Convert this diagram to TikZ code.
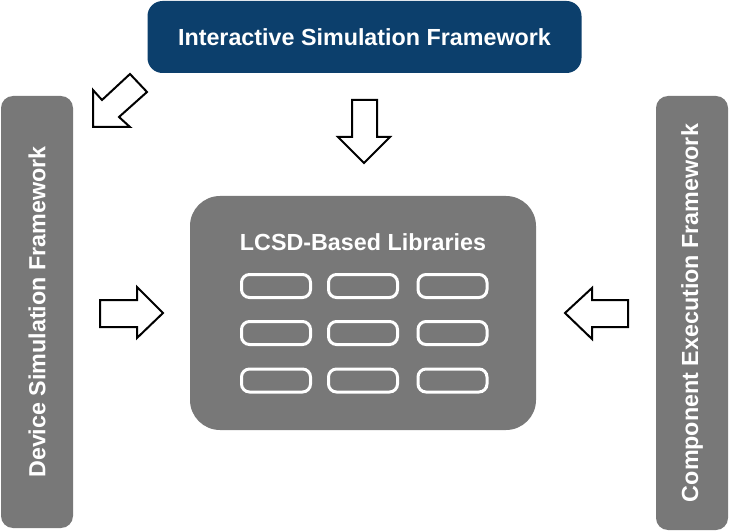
\documentclass[tikz,border=0pt]{standalone}
\usepackage{fontspec}
\setmainfont{Liberation Sans}
\definecolor{isfblue}{HTML}{0C3F6C}
\definecolor{boxgray}{HTML}{787878}
\begin{document}
\begin{tikzpicture}[x=1pt,y=-1pt,
  lbl/.style={text=white,font=\fontsize{23.3}{27}\selectfont\bfseries},
  bigbox/.style={fill=boxgray,draw=none,rounded corners=12pt,inner sep=0pt},
  libbox/.style={draw=white,line width=3pt,rounded corners=8pt,minimum width=69pt,minimum height=23pt,inner sep=0pt},
  blockarrow/.style={draw=black,fill=white,line width=2pt,line join=miter}]
\useasboundingbox (0,0) rectangle (729,532);
% top box
\node[fill=isfblue,rounded corners=15pt,minimum width=434pt,minimum height=72pt,inner sep=0pt,lbl] (isf) at (364.5,37) {Interactive Simulation Framework};
% side boxes
\node[bigbox,rotate=90,minimum width=432pt,minimum height=72pt,lbl] (dsf) at (37,312) {Device Simulation Framework};
\node[bigbox,rotate=90,minimum width=434pt,minimum height=72pt,lbl] (cef) at (692,313) {Component Execution Framework};
% centre box
\node[bigbox,rounded corners=30pt,minimum width=346pt,minimum height=234pt] (lib) at (363,313) {};
\node[lbl] (libtitle) at (363,242) {LCSD-Based Libraries};
\foreach \c/\x in {1/276,2/363,3/452.5}{
  \foreach \r/\y in {1/286,2/333,3/380.5}{
    \node[libbox] (lb\r\c) at (\x,\y) {};
  }
}
% block arrows
\draw[blockarrow] (352,100) -- (377,100) -- (377,137) -- (390,137) -- (364,163) -- (338,137) -- (352,137) -- cycle;
\draw[blockarrow] (93,127) -- (93,90) -- (102,100) -- (130,74) -- (147,92) -- (119,117) -- (130,127) -- cycle;
\draw[blockarrow] (100,300) -- (137,300) -- (137,287) -- (163,313) -- (137,338) -- (137,327) -- (100,327) -- cycle;
\draw[blockarrow] (628,300) -- (592,300) -- (592,288) -- (565,313) -- (592,339) -- (592,327) -- (628,327) -- cycle;
\end{tikzpicture}
\end{document}
